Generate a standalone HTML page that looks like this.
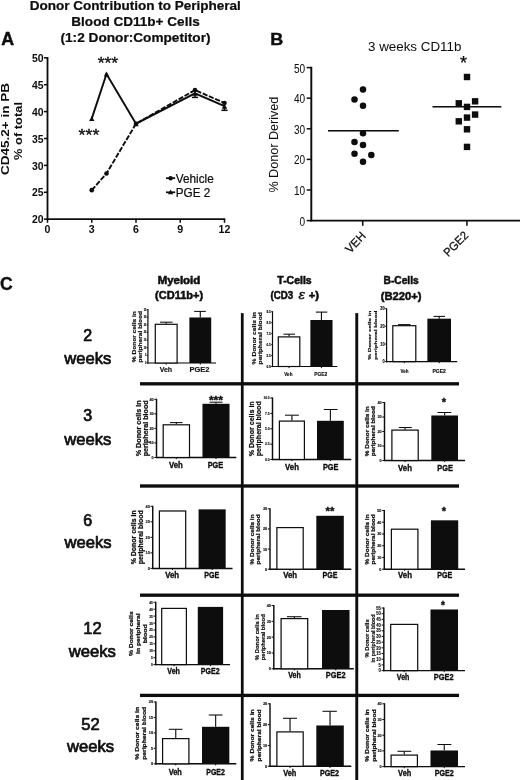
<!DOCTYPE html>
<html lang="en">
<head>
<meta charset="utf-8">
<title>Donor Contribution to Peripheral Blood CD11b+ Cells</title>
<style>
html,body{margin:0;padding:0;background:#fff;}
body{width:520px;height:780px;overflow:hidden;font-family:"Liberation Sans",sans-serif;}
svg{display:block;}
svg text{font-family:"Liberation Sans",sans-serif;}
</style>
</head>
<body>
<svg width="520" height="780" viewBox="0 0 520 780">
<defs><filter id="soft" x="0" y="0" width="100%" height="100%"><feGaussianBlur stdDeviation="0.3"/></filter></defs>
<rect x="0" y="0" width="520" height="780" fill="#fff"/>
<g filter="url(#soft)">
<g id="panelA">
<text x="135.30" y="9.90" font-size="13" text-anchor="middle" fill="#0a0a0a" font-weight="bold" textLength="211.00" lengthAdjust="spacingAndGlyphs" stroke="#0a0a0a" stroke-width="0.2">Donor Contribution to Peripheral</text>
<text x="135.50" y="26.00" font-size="13" text-anchor="middle" fill="#0a0a0a" font-weight="bold" textLength="128.40" lengthAdjust="spacingAndGlyphs" stroke="#0a0a0a" stroke-width="0.2">Blood CD11b+ Cells</text>
<text x="135.50" y="42.00" font-size="13" text-anchor="middle" fill="#0a0a0a" font-weight="bold" textLength="150.00" lengthAdjust="spacingAndGlyphs" stroke="#0a0a0a" stroke-width="0.2">(1:2 Donor:Competitor)</text>
<text x="1.20" y="45.40" font-size="17.8" text-anchor="start" fill="#0a0a0a" font-weight="bold" stroke="#0a0a0a" stroke-width="0.45">A</text>
<line x1="47.50" y1="57.00" x2="47.50" y2="220.00" stroke="#0a0a0a" stroke-width="1.8" />
<line x1="46.60" y1="219.20" x2="225.30" y2="219.20" stroke="#0a0a0a" stroke-width="1.8" />
<line x1="43.90" y1="219.20" x2="47.50" y2="219.20" stroke="#0a0a0a" stroke-width="1.5" />
<text x="43.60" y="223.30" font-size="11.5" text-anchor="end" fill="#0a0a0a" font-weight="bold" textLength="11.60" lengthAdjust="spacingAndGlyphs">20</text>
<line x1="43.90" y1="192.30" x2="47.50" y2="192.30" stroke="#0a0a0a" stroke-width="1.5" />
<text x="43.60" y="196.40" font-size="11.5" text-anchor="end" fill="#0a0a0a" font-weight="bold" textLength="11.60" lengthAdjust="spacingAndGlyphs">25</text>
<line x1="43.90" y1="165.40" x2="47.50" y2="165.40" stroke="#0a0a0a" stroke-width="1.5" />
<text x="43.60" y="169.50" font-size="11.5" text-anchor="end" fill="#0a0a0a" font-weight="bold" textLength="11.60" lengthAdjust="spacingAndGlyphs">30</text>
<line x1="43.90" y1="138.50" x2="47.50" y2="138.50" stroke="#0a0a0a" stroke-width="1.5" />
<text x="43.60" y="142.60" font-size="11.5" text-anchor="end" fill="#0a0a0a" font-weight="bold" textLength="11.60" lengthAdjust="spacingAndGlyphs">35</text>
<line x1="43.90" y1="111.60" x2="47.50" y2="111.60" stroke="#0a0a0a" stroke-width="1.5" />
<text x="43.60" y="115.70" font-size="11.5" text-anchor="end" fill="#0a0a0a" font-weight="bold" textLength="11.60" lengthAdjust="spacingAndGlyphs">40</text>
<line x1="43.90" y1="84.70" x2="47.50" y2="84.70" stroke="#0a0a0a" stroke-width="1.5" />
<text x="43.60" y="88.80" font-size="11.5" text-anchor="end" fill="#0a0a0a" font-weight="bold" textLength="11.60" lengthAdjust="spacingAndGlyphs">45</text>
<line x1="43.90" y1="57.80" x2="47.50" y2="57.80" stroke="#0a0a0a" stroke-width="1.5" />
<text x="43.60" y="61.90" font-size="11.5" text-anchor="end" fill="#0a0a0a" font-weight="bold" textLength="11.60" lengthAdjust="spacingAndGlyphs">50</text>
<line x1="47.50" y1="219.20" x2="47.50" y2="222.80" stroke="#0a0a0a" stroke-width="1.5" />
<text x="47.50" y="232.50" font-size="11.5" text-anchor="middle" fill="#0a0a0a" font-weight="bold" textLength="5.90" lengthAdjust="spacingAndGlyphs">0</text>
<line x1="91.75" y1="219.20" x2="91.75" y2="222.80" stroke="#0a0a0a" stroke-width="1.5" />
<text x="91.75" y="232.50" font-size="11.5" text-anchor="middle" fill="#0a0a0a" font-weight="bold" textLength="5.90" lengthAdjust="spacingAndGlyphs">3</text>
<line x1="136.00" y1="219.20" x2="136.00" y2="222.80" stroke="#0a0a0a" stroke-width="1.5" />
<text x="136.00" y="232.50" font-size="11.5" text-anchor="middle" fill="#0a0a0a" font-weight="bold" textLength="5.90" lengthAdjust="spacingAndGlyphs">6</text>
<line x1="180.25" y1="219.20" x2="180.25" y2="222.80" stroke="#0a0a0a" stroke-width="1.5" />
<text x="180.25" y="232.50" font-size="11.5" text-anchor="middle" fill="#0a0a0a" font-weight="bold" textLength="5.90" lengthAdjust="spacingAndGlyphs">9</text>
<line x1="224.50" y1="219.20" x2="224.50" y2="222.80" stroke="#0a0a0a" stroke-width="1.5" />
<text x="224.50" y="232.50" font-size="11.5" text-anchor="middle" fill="#0a0a0a" font-weight="bold" textLength="11.80" lengthAdjust="spacingAndGlyphs">12</text>
<text x="9.40" y="129.00" font-size="11.5" text-anchor="middle" fill="#0a0a0a" font-weight="bold" textLength="92.00" lengthAdjust="spacingAndGlyphs" transform="rotate(-90 9.40 129.00)">CD45.2+ in PB</text>
<text x="21.70" y="131.00" font-size="11.5" text-anchor="middle" fill="#0a0a0a" font-weight="bold" textLength="58.00" lengthAdjust="spacingAndGlyphs" transform="rotate(-90 21.70 131.00)">% of total</text>
<polyline points="91.75,190.15 106.50,173.47 136.00,123.71 195.00,90.08 224.50,102.99" fill="none" stroke="#0a0a0a" stroke-width="1.9" stroke-dasharray="5.2 1.6" stroke-linejoin="round"/>
<polyline points="91.75,118.59 106.50,73.94 136.00,123.71 195.00,93.31 224.50,106.22" fill="none" stroke="#0a0a0a" stroke-width="1.9" stroke-linejoin="miter"/>
<circle cx="91.75" cy="190.15" r="2.3" fill="#0a0a0a"/>
<circle cx="106.50" cy="173.47" r="2.3" fill="#0a0a0a"/>
<circle cx="136.00" cy="123.71" r="2.3" fill="#0a0a0a"/>
<circle cx="195.00" cy="90.08" r="2.3" fill="#0a0a0a"/>
<circle cx="224.50" cy="102.99" r="2.3" fill="#0a0a0a"/>
<polygon points="91.75,116.19 89.05,121.05 94.45,121.05" fill="#0a0a0a"/>
<polygon points="106.50,71.54 103.80,76.40 109.20,76.40" fill="#0a0a0a"/>
<polygon points="136.00,121.31 133.30,126.17 138.70,126.17" fill="#0a0a0a"/>
<polygon points="195.00,90.91 192.30,95.77 197.70,95.77" fill="#0a0a0a"/>
<polygon points="224.50,103.82 221.80,108.68 227.20,108.68" fill="#0a0a0a"/>
<line x1="191.90" y1="97.41" x2="198.10" y2="97.41" stroke="#0a0a0a" stroke-width="1.5" />
<line x1="195.00" y1="93.31" x2="195.00" y2="97.41" stroke="#0a0a0a" stroke-width="1.4" />
<line x1="221.40" y1="110.32" x2="227.60" y2="110.32" stroke="#0a0a0a" stroke-width="1.5" />
<line x1="224.50" y1="106.22" x2="224.50" y2="110.32" stroke="#0a0a0a" stroke-width="1.4" />
<text x="107.90" y="68.80" font-size="16.5" text-anchor="middle" fill="#0a0a0a" textLength="20.50" lengthAdjust="spacingAndGlyphs" stroke="#0a0a0a" stroke-width="0.3">***</text>
<text x="89.00" y="140.70" font-size="16.5" text-anchor="middle" fill="#0a0a0a" textLength="20.80" lengthAdjust="spacingAndGlyphs" stroke="#0a0a0a" stroke-width="0.3">***</text>
<line x1="166.00" y1="178.20" x2="175.20" y2="178.20" stroke="#0a0a0a" stroke-width="1.7" />
<circle cx="170.6" cy="178.2" r="2.2" fill="#0a0a0a"/>
<line x1="166.00" y1="192.30" x2="175.20" y2="192.30" stroke="#0a0a0a" stroke-width="1.7" />
<polygon points="170.60,189.50 168.00,194.18 173.20,194.18" fill="#0a0a0a"/>
<text x="175.80" y="182.80" font-size="12.6" text-anchor="start" fill="#0a0a0a" textLength="38.00" lengthAdjust="spacingAndGlyphs" stroke="#0a0a0a" stroke-width="0.2">Vehicle</text>
<text x="175.80" y="196.60" font-size="12.6" text-anchor="start" fill="#0a0a0a" textLength="34.50" lengthAdjust="spacingAndGlyphs" stroke="#0a0a0a" stroke-width="0.2">PGE 2</text>
</g>
<g id="panelB">
<text x="270.30" y="45.00" font-size="17.2" text-anchor="start" fill="#0a0a0a" font-weight="bold" textLength="13.00" lengthAdjust="spacingAndGlyphs" stroke="#0a0a0a" stroke-width="0.4">B</text>
<text x="414.70" y="51.40" font-size="13.2" text-anchor="middle" fill="#0a0a0a" textLength="93.30" lengthAdjust="spacingAndGlyphs">3 weeks CD11b</text>
<line x1="311.30" y1="66.80" x2="311.30" y2="221.50" stroke="#0a0a0a" stroke-width="1.9" />
<line x1="310.40" y1="220.60" x2="520.00" y2="220.60" stroke="#0a0a0a" stroke-width="1.9" />
<line x1="306.70" y1="220.60" x2="311.30" y2="220.60" stroke="#0a0a0a" stroke-width="1.5" />
<text x="305.20" y="225.50" font-size="12" text-anchor="end" fill="#0a0a0a" textLength="5.60" lengthAdjust="spacingAndGlyphs">0</text>
<line x1="306.70" y1="190.00" x2="311.30" y2="190.00" stroke="#0a0a0a" stroke-width="1.5" />
<text x="305.20" y="194.90" font-size="12" text-anchor="end" fill="#0a0a0a" textLength="11.20" lengthAdjust="spacingAndGlyphs">10</text>
<line x1="306.70" y1="159.40" x2="311.30" y2="159.40" stroke="#0a0a0a" stroke-width="1.5" />
<text x="305.20" y="164.30" font-size="12" text-anchor="end" fill="#0a0a0a" textLength="11.20" lengthAdjust="spacingAndGlyphs">20</text>
<line x1="306.70" y1="128.80" x2="311.30" y2="128.80" stroke="#0a0a0a" stroke-width="1.5" />
<text x="305.20" y="133.70" font-size="12" text-anchor="end" fill="#0a0a0a" textLength="11.20" lengthAdjust="spacingAndGlyphs">30</text>
<line x1="306.70" y1="98.20" x2="311.30" y2="98.20" stroke="#0a0a0a" stroke-width="1.5" />
<text x="305.20" y="103.10" font-size="12" text-anchor="end" fill="#0a0a0a" textLength="11.20" lengthAdjust="spacingAndGlyphs">40</text>
<line x1="306.70" y1="67.60" x2="311.30" y2="67.60" stroke="#0a0a0a" stroke-width="1.5" />
<text x="305.20" y="72.50" font-size="12" text-anchor="end" fill="#0a0a0a" textLength="11.20" lengthAdjust="spacingAndGlyphs">50</text>
<line x1="362.70" y1="220.60" x2="362.70" y2="225.80" stroke="#0a0a0a" stroke-width="1.5" />
<line x1="466.90" y1="220.60" x2="466.90" y2="225.80" stroke="#0a0a0a" stroke-width="1.5" />
<text x="278.00" y="144.60" font-size="12.6" text-anchor="middle" fill="#0a0a0a" textLength="96.00" lengthAdjust="spacingAndGlyphs" transform="rotate(-90 278.00 144.60)">% Donor Derived</text>
<circle cx="363" cy="89.5" r="3.25" fill="#0a0a0a"/>
<circle cx="354.5" cy="99.6" r="3.25" fill="#0a0a0a"/>
<circle cx="363" cy="105.8" r="3.25" fill="#0a0a0a"/>
<circle cx="363" cy="133.3" r="3.25" fill="#0a0a0a"/>
<circle cx="354.5" cy="142" r="3.25" fill="#0a0a0a"/>
<circle cx="363" cy="145" r="3.25" fill="#0a0a0a"/>
<circle cx="354.5" cy="153.8" r="3.25" fill="#0a0a0a"/>
<circle cx="371.3" cy="155.1" r="3.25" fill="#0a0a0a"/>
<circle cx="363" cy="161.8" r="3.25" fill="#0a0a0a"/>
<line x1="328.00" y1="130.80" x2="398.80" y2="130.80" stroke="#0a0a0a" stroke-width="1.6" />
<rect x="463.80" y="73.80" width="6.40" height="6.40" fill="#0a0a0a"/>
<rect x="455.60" y="100.10" width="6.40" height="6.40" fill="#0a0a0a"/>
<rect x="471.90" y="98.10" width="6.40" height="6.40" fill="#0a0a0a"/>
<rect x="463.80" y="103.70" width="6.40" height="6.40" fill="#0a0a0a"/>
<rect x="471.90" y="111.40" width="6.40" height="6.40" fill="#0a0a0a"/>
<rect x="463.80" y="114.40" width="6.40" height="6.40" fill="#0a0a0a"/>
<rect x="455.60" y="118.10" width="6.40" height="6.40" fill="#0a0a0a"/>
<rect x="463.80" y="126.10" width="6.40" height="6.40" fill="#0a0a0a"/>
<rect x="463.80" y="143.70" width="6.40" height="6.40" fill="#0a0a0a"/>
<line x1="432.50" y1="106.80" x2="501.30" y2="106.80" stroke="#0a0a0a" stroke-width="1.6" />
<text x="463.40" y="69.00" font-size="18" text-anchor="middle" fill="#0a0a0a" stroke="#0a0a0a" stroke-width="0.25">*</text>
<text x="366.40" y="236.60" font-size="11.8" text-anchor="end" fill="#0a0a0a" textLength="23.60" lengthAdjust="spacingAndGlyphs" transform="rotate(-46.5 366.40 236.60)" stroke="#0a0a0a" stroke-width="0.25">VEH</text>
<text x="469.20" y="236.20" font-size="11.8" text-anchor="end" fill="#0a0a0a" textLength="29.60" lengthAdjust="spacingAndGlyphs" transform="rotate(-45 469.20 236.20)" stroke="#0a0a0a" stroke-width="0.25">PGE2</text>
</g>
<g id="panelC">
<text x="0.00" y="289.70" font-size="17.6" text-anchor="start" fill="#0a0a0a" font-weight="bold" stroke="#0a0a0a" stroke-width="0.3">C</text>
<text x="179.00" y="284.30" font-size="10.8" text-anchor="middle" fill="#0a0a0a" font-weight="bold" textLength="42.60" lengthAdjust="spacingAndGlyphs" stroke="#0a0a0a" stroke-width="0.5">Myeloid</text>
<text x="179.10" y="299.30" font-size="10.8" text-anchor="middle" fill="#0a0a0a" font-weight="bold" textLength="48.00" lengthAdjust="spacingAndGlyphs" stroke="#0a0a0a" stroke-width="0.5">(CD11b+)</text>
<text x="294.50" y="284.30" font-size="10.8" text-anchor="middle" fill="#0a0a0a" font-weight="bold" textLength="34.40" lengthAdjust="spacingAndGlyphs" stroke="#0a0a0a" stroke-width="0.5">T-Cells</text>
<text x="281.80" y="299.30" font-size="10.8" text-anchor="middle" fill="#0a0a0a" font-weight="bold" textLength="22.60" lengthAdjust="spacingAndGlyphs" stroke="#0a0a0a" stroke-width="0.5">(CD3</text>
<text x="301.70" y="299.10" font-size="12.4" text-anchor="middle" fill="#0a0a0a" font-style="italic" textLength="6.40" lengthAdjust="spacingAndGlyphs" stroke="#0a0a0a" stroke-width="0.3">ε</text>
<text x="313.80" y="299.30" font-size="10.8" text-anchor="middle" fill="#0a0a0a" font-weight="bold" textLength="10.30" lengthAdjust="spacingAndGlyphs" stroke="#0a0a0a" stroke-width="0.5">+)</text>
<text x="401.10" y="284.30" font-size="10.8" text-anchor="middle" fill="#0a0a0a" font-weight="bold" textLength="35.20" lengthAdjust="spacingAndGlyphs" stroke="#0a0a0a" stroke-width="0.5">B-Cells</text>
<text x="401.10" y="299.60" font-size="10.8" text-anchor="middle" fill="#0a0a0a" font-weight="bold" textLength="40.60" lengthAdjust="spacingAndGlyphs" stroke="#0a0a0a" stroke-width="0.5">(B220+)</text>
<text x="87.60" y="341.30" font-size="16" text-anchor="middle" fill="#0a0a0a" textLength="8.90" lengthAdjust="spacingAndGlyphs" stroke="#0a0a0a" stroke-width="0.7" stroke-linejoin="round">2</text>
<text x="87.80" y="363.80" font-size="16.6" text-anchor="middle" fill="#0a0a0a" textLength="47.20" lengthAdjust="spacingAndGlyphs" stroke="#0a0a0a" stroke-width="0.7" stroke-linejoin="round">weeks</text>
<text x="87.60" y="421.40" font-size="16" text-anchor="middle" fill="#0a0a0a" textLength="8.90" lengthAdjust="spacingAndGlyphs" stroke="#0a0a0a" stroke-width="0.7" stroke-linejoin="round">3</text>
<text x="87.80" y="444.50" font-size="16.6" text-anchor="middle" fill="#0a0a0a" textLength="47.20" lengthAdjust="spacingAndGlyphs" stroke="#0a0a0a" stroke-width="0.7" stroke-linejoin="round">weeks</text>
<text x="87.70" y="525.70" font-size="16" text-anchor="middle" fill="#0a0a0a" textLength="8.90" lengthAdjust="spacingAndGlyphs" stroke="#0a0a0a" stroke-width="0.7" stroke-linejoin="round">6</text>
<text x="88.00" y="548.30" font-size="16.6" text-anchor="middle" fill="#0a0a0a" textLength="47.20" lengthAdjust="spacingAndGlyphs" stroke="#0a0a0a" stroke-width="0.7" stroke-linejoin="round">weeks</text>
<text x="92.40" y="634.30" font-size="16" text-anchor="middle" fill="#0a0a0a" textLength="18.40" lengthAdjust="spacingAndGlyphs" stroke="#0a0a0a" stroke-width="0.7" stroke-linejoin="round">12</text>
<text x="92.30" y="657.00" font-size="16.6" text-anchor="middle" fill="#0a0a0a" textLength="47.20" lengthAdjust="spacingAndGlyphs" stroke="#0a0a0a" stroke-width="0.7" stroke-linejoin="round">weeks</text>
<text x="90.50" y="729.80" font-size="16" text-anchor="middle" fill="#0a0a0a" textLength="18.40" lengthAdjust="spacingAndGlyphs" stroke="#0a0a0a" stroke-width="0.7" stroke-linejoin="round">52</text>
<text x="90.50" y="752.00" font-size="16.6" text-anchor="middle" fill="#0a0a0a" textLength="47.20" lengthAdjust="spacingAndGlyphs" stroke="#0a0a0a" stroke-width="0.7" stroke-linejoin="round">weeks</text>
<rect x="140.00" y="382.15" width="319.00" height="3.30" fill="#0a0a0a"/>
<rect x="140.00" y="484.35" width="319.00" height="3.30" fill="#0a0a0a"/>
<rect x="140.00" y="593.55" width="319.00" height="3.30" fill="#0a0a0a"/>
<rect x="140.00" y="693.75" width="319.00" height="3.30" fill="#0a0a0a"/>
<rect x="240.90" y="313.10" width="2.70" height="466.90" fill="#0a0a0a"/>
<rect x="355.30" y="313.10" width="2.90" height="466.90" fill="#0a0a0a"/>
<line x1="147.90" y1="309.10" x2="147.90" y2="363.60" stroke="#0a0a0a" stroke-width="1.2" />
<line x1="147.30" y1="363.00" x2="216.00" y2="363.00" stroke="#0a0a0a" stroke-width="1.2" />
<line x1="146.70" y1="309.60" x2="147.90" y2="309.60" stroke="#0a0a0a" stroke-width="1.0" />
<text x="146.30" y="310.61" font-size="2.8" text-anchor="end" fill="#0a0a0a" font-weight="bold" textLength="2.60" lengthAdjust="spacingAndGlyphs" stroke="#0a0a0a" stroke-width="0.12">35</text>
<line x1="146.70" y1="317.23" x2="147.90" y2="317.23" stroke="#0a0a0a" stroke-width="1.0" />
<text x="146.30" y="318.24" font-size="2.8" text-anchor="end" fill="#0a0a0a" font-weight="bold" textLength="2.60" lengthAdjust="spacingAndGlyphs" stroke="#0a0a0a" stroke-width="0.12">30</text>
<line x1="146.70" y1="324.86" x2="147.90" y2="324.86" stroke="#0a0a0a" stroke-width="1.0" />
<text x="146.30" y="325.87" font-size="2.8" text-anchor="end" fill="#0a0a0a" font-weight="bold" textLength="2.60" lengthAdjust="spacingAndGlyphs" stroke="#0a0a0a" stroke-width="0.12">25</text>
<line x1="146.70" y1="332.49" x2="147.90" y2="332.49" stroke="#0a0a0a" stroke-width="1.0" />
<text x="146.30" y="333.49" font-size="2.8" text-anchor="end" fill="#0a0a0a" font-weight="bold" textLength="2.60" lengthAdjust="spacingAndGlyphs" stroke="#0a0a0a" stroke-width="0.12">20</text>
<line x1="146.70" y1="340.11" x2="147.90" y2="340.11" stroke="#0a0a0a" stroke-width="1.0" />
<text x="146.30" y="341.12" font-size="2.8" text-anchor="end" fill="#0a0a0a" font-weight="bold" textLength="2.60" lengthAdjust="spacingAndGlyphs" stroke="#0a0a0a" stroke-width="0.12">15</text>
<line x1="146.70" y1="347.74" x2="147.90" y2="347.74" stroke="#0a0a0a" stroke-width="1.0" />
<text x="146.30" y="348.75" font-size="2.8" text-anchor="end" fill="#0a0a0a" font-weight="bold" textLength="2.60" lengthAdjust="spacingAndGlyphs" stroke="#0a0a0a" stroke-width="0.12">10</text>
<line x1="146.70" y1="355.37" x2="147.90" y2="355.37" stroke="#0a0a0a" stroke-width="1.0" />
<text x="146.30" y="356.38" font-size="2.8" text-anchor="end" fill="#0a0a0a" font-weight="bold" textLength="1.30" lengthAdjust="spacingAndGlyphs" stroke="#0a0a0a" stroke-width="0.12">5</text>
<line x1="146.70" y1="363.00" x2="147.90" y2="363.00" stroke="#0a0a0a" stroke-width="1.0" />
<text x="146.30" y="364.01" font-size="2.8" text-anchor="end" fill="#0a0a0a" font-weight="bold" textLength="1.30" lengthAdjust="spacingAndGlyphs" stroke="#0a0a0a" stroke-width="0.12">0</text>
<line x1="166.20" y1="322.20" x2="166.20" y2="323.70" stroke="#0a0a0a" stroke-width="1.1" />
<line x1="160.00" y1="322.20" x2="172.50" y2="322.20" stroke="#0a0a0a" stroke-width="1.05" />
<rect x="155.30" y="324.30" width="21.80" height="38.70" fill="#fff" stroke="#0a0a0a" stroke-width="1.2"/>
<line x1="200.30" y1="311.40" x2="200.30" y2="317.50" stroke="#0a0a0a" stroke-width="1.1" />
<line x1="194.20" y1="311.40" x2="205.80" y2="311.40" stroke="#0a0a0a" stroke-width="1.05" />
<rect x="189.40" y="317.50" width="21.80" height="45.50" fill="#0a0a0a"/>
<line x1="166.20" y1="363.00" x2="166.20" y2="364.60" stroke="#0a0a0a" stroke-width="1.0" />
<line x1="200.30" y1="363.00" x2="200.30" y2="364.60" stroke="#0a0a0a" stroke-width="1.0" />
<text x="165.90" y="371.80" font-size="6.7" text-anchor="middle" fill="#0a0a0a" font-weight="bold" textLength="12.50" lengthAdjust="spacingAndGlyphs" stroke="#0a0a0a" stroke-width="0.12">Veh</text>
<text x="199.50" y="371.80" font-size="6.7" text-anchor="middle" fill="#0a0a0a" font-weight="bold" textLength="20.00" lengthAdjust="spacingAndGlyphs" stroke="#0a0a0a" stroke-width="0.12">PGE2</text>
<text x="135.90" y="336.70" font-size="5.3" text-anchor="middle" fill="#0a0a0a" font-weight="bold" textLength="51.00" lengthAdjust="spacingAndGlyphs" transform="rotate(-90 135.90 336.70)" stroke="#0a0a0a" stroke-width="0.15">% Donor cells in</text>
<text x="142.40" y="336.70" font-size="5.3" text-anchor="middle" fill="#0a0a0a" font-weight="bold" textLength="51.70" lengthAdjust="spacingAndGlyphs" transform="rotate(-90 142.40 336.70)" stroke="#0a0a0a" stroke-width="0.15">peripheral blood</text>
<line x1="272.50" y1="311.20" x2="272.50" y2="367.10" stroke="#0a0a0a" stroke-width="1.2" />
<line x1="271.90" y1="366.50" x2="337.30" y2="366.50" stroke="#0a0a0a" stroke-width="1.2" />
<line x1="271.20" y1="311.70" x2="272.50" y2="311.70" stroke="#0a0a0a" stroke-width="1.0" />
<text x="270.80" y="312.78" font-size="3.0" text-anchor="end" fill="#0a0a0a" font-weight="bold" textLength="4.35" lengthAdjust="spacingAndGlyphs" stroke="#0a0a0a" stroke-width="0.12">9.5</text>
<line x1="271.20" y1="322.66" x2="272.50" y2="322.66" stroke="#0a0a0a" stroke-width="1.0" />
<text x="270.80" y="323.74" font-size="3.0" text-anchor="end" fill="#0a0a0a" font-weight="bold" textLength="4.35" lengthAdjust="spacingAndGlyphs" stroke="#0a0a0a" stroke-width="0.12">8.5</text>
<line x1="271.20" y1="333.62" x2="272.50" y2="333.62" stroke="#0a0a0a" stroke-width="1.0" />
<text x="270.80" y="334.70" font-size="3.0" text-anchor="end" fill="#0a0a0a" font-weight="bold" textLength="4.35" lengthAdjust="spacingAndGlyphs" stroke="#0a0a0a" stroke-width="0.12">7.5</text>
<line x1="271.20" y1="344.58" x2="272.50" y2="344.58" stroke="#0a0a0a" stroke-width="1.0" />
<text x="270.80" y="345.66" font-size="3.0" text-anchor="end" fill="#0a0a0a" font-weight="bold" textLength="4.35" lengthAdjust="spacingAndGlyphs" stroke="#0a0a0a" stroke-width="0.12">6.5</text>
<line x1="271.20" y1="355.54" x2="272.50" y2="355.54" stroke="#0a0a0a" stroke-width="1.0" />
<text x="270.80" y="356.62" font-size="3.0" text-anchor="end" fill="#0a0a0a" font-weight="bold" textLength="4.35" lengthAdjust="spacingAndGlyphs" stroke="#0a0a0a" stroke-width="0.12">5.5</text>
<line x1="271.20" y1="366.50" x2="272.50" y2="366.50" stroke="#0a0a0a" stroke-width="1.0" />
<text x="270.80" y="367.58" font-size="3.0" text-anchor="end" fill="#0a0a0a" font-weight="bold" textLength="4.35" lengthAdjust="spacingAndGlyphs" stroke="#0a0a0a" stroke-width="0.12">0.0</text>
<line x1="289.05" y1="334.20" x2="289.05" y2="336.30" stroke="#0a0a0a" stroke-width="1.1" />
<line x1="283.50" y1="334.20" x2="295.00" y2="334.20" stroke="#0a0a0a" stroke-width="1.05" />
<rect x="278.30" y="336.90" width="21.50" height="29.60" fill="#fff" stroke="#0a0a0a" stroke-width="1.2"/>
<line x1="321.45" y1="312.10" x2="321.45" y2="320.00" stroke="#0a0a0a" stroke-width="1.1" />
<line x1="315.80" y1="312.10" x2="327.30" y2="312.10" stroke="#0a0a0a" stroke-width="1.05" />
<rect x="310.40" y="320.00" width="22.10" height="46.50" fill="#0a0a0a"/>
<line x1="289.05" y1="366.50" x2="289.05" y2="368.10" stroke="#0a0a0a" stroke-width="1.0" />
<line x1="321.45" y1="366.50" x2="321.45" y2="368.10" stroke="#0a0a0a" stroke-width="1.0" />
<text x="288.40" y="376.20" font-size="5.4" text-anchor="middle" fill="#0a0a0a" font-weight="bold" textLength="8.20" lengthAdjust="spacingAndGlyphs" stroke="#0a0a0a" stroke-width="0.12">Veh</text>
<text x="320.70" y="376.20" font-size="5.4" text-anchor="middle" fill="#0a0a0a" font-weight="bold" textLength="13.00" lengthAdjust="spacingAndGlyphs" stroke="#0a0a0a" stroke-width="0.12">PGE2</text>
<text x="256.37" y="338.30" font-size="5.2" text-anchor="middle" fill="#0a0a0a" font-weight="bold" textLength="52.30" lengthAdjust="spacingAndGlyphs" transform="rotate(-90 256.37 338.30)" stroke="#0a0a0a" stroke-width="0.15">% Donor cells in</text>
<text x="262.37" y="338.30" font-size="5.2" text-anchor="middle" fill="#0a0a0a" font-weight="bold" textLength="52.30" lengthAdjust="spacingAndGlyphs" transform="rotate(-90 262.37 338.30)" stroke="#0a0a0a" stroke-width="0.15">peripheral blood</text>
<line x1="386.60" y1="308.20" x2="386.60" y2="362.20" stroke="#0a0a0a" stroke-width="1.2" />
<line x1="386.00" y1="361.60" x2="457.20" y2="361.60" stroke="#0a0a0a" stroke-width="1.2" />
<line x1="385.10" y1="308.70" x2="386.60" y2="308.70" stroke="#0a0a0a" stroke-width="1.0" />
<text x="384.70" y="310.43" font-size="4.8" text-anchor="end" fill="#0a0a0a" font-weight="bold" textLength="4.40" lengthAdjust="spacingAndGlyphs" stroke="#0a0a0a" stroke-width="0.12">30</text>
<line x1="385.10" y1="326.33" x2="386.60" y2="326.33" stroke="#0a0a0a" stroke-width="1.0" />
<text x="384.70" y="328.06" font-size="4.8" text-anchor="end" fill="#0a0a0a" font-weight="bold" textLength="4.40" lengthAdjust="spacingAndGlyphs" stroke="#0a0a0a" stroke-width="0.12">20</text>
<line x1="385.10" y1="343.97" x2="386.60" y2="343.97" stroke="#0a0a0a" stroke-width="1.0" />
<text x="384.70" y="345.69" font-size="4.8" text-anchor="end" fill="#0a0a0a" font-weight="bold" textLength="4.40" lengthAdjust="spacingAndGlyphs" stroke="#0a0a0a" stroke-width="0.12">10</text>
<line x1="385.10" y1="361.60" x2="386.60" y2="361.60" stroke="#0a0a0a" stroke-width="1.0" />
<text x="384.70" y="363.33" font-size="4.8" text-anchor="end" fill="#0a0a0a" font-weight="bold" textLength="2.20" lengthAdjust="spacingAndGlyphs" stroke="#0a0a0a" stroke-width="0.12">0</text>
<line x1="404.30" y1="324.60" x2="404.30" y2="325.10" stroke="#0a0a0a" stroke-width="1.1" />
<line x1="398.00" y1="324.60" x2="410.50" y2="324.60" stroke="#0a0a0a" stroke-width="1.05" />
<rect x="392.80" y="325.70" width="23.00" height="35.90" fill="#fff" stroke="#0a0a0a" stroke-width="1.2"/>
<line x1="439.20" y1="316.40" x2="439.20" y2="318.70" stroke="#0a0a0a" stroke-width="1.1" />
<line x1="433.50" y1="316.40" x2="445.00" y2="316.40" stroke="#0a0a0a" stroke-width="1.05" />
<rect x="427.40" y="318.70" width="23.60" height="42.90" fill="#0a0a0a"/>
<line x1="404.30" y1="361.60" x2="404.30" y2="363.20" stroke="#0a0a0a" stroke-width="1.0" />
<line x1="439.20" y1="361.60" x2="439.20" y2="363.20" stroke="#0a0a0a" stroke-width="1.0" />
<text x="404.50" y="372.90" font-size="5.4" text-anchor="middle" fill="#0a0a0a" font-weight="bold" textLength="8.00" lengthAdjust="spacingAndGlyphs" stroke="#0a0a0a" stroke-width="0.12">Veh</text>
<text x="439.10" y="372.90" font-size="5.4" text-anchor="middle" fill="#0a0a0a" font-weight="bold" textLength="13.40" lengthAdjust="spacingAndGlyphs" stroke="#0a0a0a" stroke-width="0.12">PGE2</text>
<text x="371.10" y="335.20" font-size="4.4" text-anchor="middle" fill="#0a0a0a" font-weight="bold" textLength="49.00" lengthAdjust="spacingAndGlyphs" transform="rotate(-90 371.10 335.20)" stroke="#0a0a0a" stroke-width="0.15">% Donor cells in</text>
<text x="376.60" y="335.20" font-size="4.4" text-anchor="middle" fill="#0a0a0a" font-weight="bold" textLength="49.00" lengthAdjust="spacingAndGlyphs" transform="rotate(-90 376.60 335.20)" stroke="#0a0a0a" stroke-width="0.15">peripheral blood</text>
<line x1="156.50" y1="398.80" x2="156.50" y2="458.10" stroke="#0a0a0a" stroke-width="1.45" />
<line x1="155.90" y1="457.50" x2="236.30" y2="457.50" stroke="#0a0a0a" stroke-width="1.45" />
<line x1="154.30" y1="399.30" x2="156.50" y2="399.30" stroke="#0a0a0a" stroke-width="1.0" />
<text x="153.60" y="400.74" font-size="4.0" text-anchor="end" fill="#0a0a0a" font-weight="bold" textLength="4.20" lengthAdjust="spacingAndGlyphs" stroke="#0a0a0a" stroke-width="0.12">40</text>
<line x1="154.30" y1="413.85" x2="156.50" y2="413.85" stroke="#0a0a0a" stroke-width="1.0" />
<text x="153.60" y="415.29" font-size="4.0" text-anchor="end" fill="#0a0a0a" font-weight="bold" textLength="4.20" lengthAdjust="spacingAndGlyphs" stroke="#0a0a0a" stroke-width="0.12">30</text>
<line x1="154.30" y1="428.40" x2="156.50" y2="428.40" stroke="#0a0a0a" stroke-width="1.0" />
<text x="153.60" y="429.84" font-size="4.0" text-anchor="end" fill="#0a0a0a" font-weight="bold" textLength="4.20" lengthAdjust="spacingAndGlyphs" stroke="#0a0a0a" stroke-width="0.12">20</text>
<line x1="154.30" y1="442.95" x2="156.50" y2="442.95" stroke="#0a0a0a" stroke-width="1.0" />
<text x="153.60" y="444.39" font-size="4.0" text-anchor="end" fill="#0a0a0a" font-weight="bold" textLength="4.20" lengthAdjust="spacingAndGlyphs" stroke="#0a0a0a" stroke-width="0.12">10</text>
<line x1="154.30" y1="457.50" x2="156.50" y2="457.50" stroke="#0a0a0a" stroke-width="1.0" />
<text x="153.60" y="458.94" font-size="4.0" text-anchor="end" fill="#0a0a0a" font-weight="bold" textLength="2.10" lengthAdjust="spacingAndGlyphs" stroke="#0a0a0a" stroke-width="0.12">0</text>
<line x1="176.35" y1="422.60" x2="176.35" y2="424.20" stroke="#0a0a0a" stroke-width="1.1" />
<line x1="170.00" y1="422.60" x2="182.50" y2="422.60" stroke="#0a0a0a" stroke-width="1.05" />
<rect x="163.20" y="424.80" width="26.30" height="32.70" fill="#fff" stroke="#0a0a0a" stroke-width="1.2"/>
<line x1="216.00" y1="402.20" x2="216.00" y2="403.80" stroke="#0a0a0a" stroke-width="1.1" />
<line x1="209.50" y1="402.20" x2="222.50" y2="402.20" stroke="#0a0a0a" stroke-width="1.05" />
<rect x="202.50" y="403.80" width="27.00" height="53.70" fill="#0a0a0a"/>
<line x1="176.35" y1="457.50" x2="176.35" y2="459.10" stroke="#0a0a0a" stroke-width="1.0" />
<line x1="216.00" y1="457.50" x2="216.00" y2="459.10" stroke="#0a0a0a" stroke-width="1.0" />
<text x="175.90" y="467.70" font-size="9" text-anchor="middle" fill="#0a0a0a" font-weight="bold" textLength="13.90" lengthAdjust="spacingAndGlyphs" stroke="#0a0a0a" stroke-width="0.32">Veh</text>
<text x="215.50" y="467.70" font-size="9" text-anchor="middle" fill="#0a0a0a" font-weight="bold" textLength="15.60" lengthAdjust="spacingAndGlyphs" stroke="#0a0a0a" stroke-width="0.32">PGE</text>
<text x="140.84" y="428.30" font-size="6.6" text-anchor="middle" fill="#0a0a0a" font-weight="bold" textLength="56.00" lengthAdjust="spacingAndGlyphs" transform="rotate(-90 140.84 428.30)" stroke="#0a0a0a" stroke-width="0.22">% Donor cells in</text>
<text x="148.24" y="428.30" font-size="6.6" text-anchor="middle" fill="#0a0a0a" font-weight="bold" textLength="56.00" lengthAdjust="spacingAndGlyphs" transform="rotate(-90 148.24 428.30)" stroke="#0a0a0a" stroke-width="0.22">peripheral blood</text>
<text x="216.00" y="403.90" font-size="10.5" text-anchor="middle" fill="#0a0a0a" font-weight="bold" textLength="14.20" lengthAdjust="spacingAndGlyphs" stroke="#0a0a0a" stroke-width="0.35">***</text>
<line x1="272.50" y1="397.50" x2="272.50" y2="460.10" stroke="#0a0a0a" stroke-width="1.45" />
<line x1="271.90" y1="459.50" x2="351.30" y2="459.50" stroke="#0a0a0a" stroke-width="1.45" />
<line x1="270.30" y1="398.00" x2="272.50" y2="398.00" stroke="#0a0a0a" stroke-width="1.0" />
<text x="269.60" y="399.37" font-size="3.8" text-anchor="end" fill="#0a0a0a" font-weight="bold" textLength="6.20" lengthAdjust="spacingAndGlyphs" stroke="#0a0a0a" stroke-width="0.12">10.0</text>
<line x1="270.30" y1="413.38" x2="272.50" y2="413.38" stroke="#0a0a0a" stroke-width="1.0" />
<text x="269.60" y="414.74" font-size="3.8" text-anchor="end" fill="#0a0a0a" font-weight="bold" textLength="4.65" lengthAdjust="spacingAndGlyphs" stroke="#0a0a0a" stroke-width="0.12">7.5</text>
<line x1="270.30" y1="428.75" x2="272.50" y2="428.75" stroke="#0a0a0a" stroke-width="1.0" />
<text x="269.60" y="430.12" font-size="3.8" text-anchor="end" fill="#0a0a0a" font-weight="bold" textLength="4.65" lengthAdjust="spacingAndGlyphs" stroke="#0a0a0a" stroke-width="0.12">5.0</text>
<line x1="270.30" y1="444.12" x2="272.50" y2="444.12" stroke="#0a0a0a" stroke-width="1.0" />
<text x="269.60" y="445.49" font-size="3.8" text-anchor="end" fill="#0a0a0a" font-weight="bold" textLength="4.65" lengthAdjust="spacingAndGlyphs" stroke="#0a0a0a" stroke-width="0.12">2.5</text>
<line x1="270.30" y1="459.50" x2="272.50" y2="459.50" stroke="#0a0a0a" stroke-width="1.0" />
<text x="269.60" y="460.87" font-size="3.8" text-anchor="end" fill="#0a0a0a" font-weight="bold" textLength="4.65" lengthAdjust="spacingAndGlyphs" stroke="#0a0a0a" stroke-width="0.12">0.0</text>
<line x1="291.90" y1="415.20" x2="291.90" y2="420.50" stroke="#0a0a0a" stroke-width="1.1" />
<line x1="285.00" y1="415.20" x2="298.80" y2="415.20" stroke="#0a0a0a" stroke-width="1.05" />
<rect x="279.40" y="421.10" width="25.00" height="38.40" fill="#fff" stroke="#0a0a0a" stroke-width="1.2"/>
<line x1="330.40" y1="409.50" x2="330.40" y2="420.80" stroke="#0a0a0a" stroke-width="1.1" />
<line x1="323.80" y1="409.50" x2="337.50" y2="409.50" stroke="#0a0a0a" stroke-width="1.05" />
<rect x="317.00" y="420.80" width="26.80" height="38.70" fill="#0a0a0a"/>
<line x1="291.90" y1="459.50" x2="291.90" y2="461.10" stroke="#0a0a0a" stroke-width="1.0" />
<line x1="330.40" y1="459.50" x2="330.40" y2="461.10" stroke="#0a0a0a" stroke-width="1.0" />
<text x="292.00" y="469.90" font-size="9" text-anchor="middle" fill="#0a0a0a" font-weight="bold" textLength="13.90" lengthAdjust="spacingAndGlyphs" stroke="#0a0a0a" stroke-width="0.32">Veh</text>
<text x="330.70" y="469.90" font-size="9" text-anchor="middle" fill="#0a0a0a" font-weight="bold" textLength="15.60" lengthAdjust="spacingAndGlyphs" stroke="#0a0a0a" stroke-width="0.32">PGE</text>
<text x="254.18" y="428.80" font-size="6.4" text-anchor="middle" fill="#0a0a0a" font-weight="bold" textLength="55.00" lengthAdjust="spacingAndGlyphs" transform="rotate(-90 254.18 428.80)" stroke="#0a0a0a" stroke-width="0.22">% Donor cells in</text>
<text x="260.78" y="428.80" font-size="6.4" text-anchor="middle" fill="#0a0a0a" font-weight="bold" textLength="55.00" lengthAdjust="spacingAndGlyphs" transform="rotate(-90 260.78 428.80)" stroke="#0a0a0a" stroke-width="0.22">peripheral blood</text>
<line x1="384.50" y1="402.00" x2="384.50" y2="461.10" stroke="#0a0a0a" stroke-width="1.45" />
<line x1="383.90" y1="460.50" x2="465.00" y2="460.50" stroke="#0a0a0a" stroke-width="1.45" />
<line x1="382.30" y1="402.50" x2="384.50" y2="402.50" stroke="#0a0a0a" stroke-width="1.0" />
<text x="381.60" y="403.94" font-size="4.0" text-anchor="end" fill="#0a0a0a" font-weight="bold" textLength="4.20" lengthAdjust="spacingAndGlyphs" stroke="#0a0a0a" stroke-width="0.12">40</text>
<line x1="382.30" y1="417.00" x2="384.50" y2="417.00" stroke="#0a0a0a" stroke-width="1.0" />
<text x="381.60" y="418.44" font-size="4.0" text-anchor="end" fill="#0a0a0a" font-weight="bold" textLength="4.20" lengthAdjust="spacingAndGlyphs" stroke="#0a0a0a" stroke-width="0.12">30</text>
<line x1="382.30" y1="431.50" x2="384.50" y2="431.50" stroke="#0a0a0a" stroke-width="1.0" />
<text x="381.60" y="432.94" font-size="4.0" text-anchor="end" fill="#0a0a0a" font-weight="bold" textLength="4.20" lengthAdjust="spacingAndGlyphs" stroke="#0a0a0a" stroke-width="0.12">20</text>
<line x1="382.30" y1="446.00" x2="384.50" y2="446.00" stroke="#0a0a0a" stroke-width="1.0" />
<text x="381.60" y="447.44" font-size="4.0" text-anchor="end" fill="#0a0a0a" font-weight="bold" textLength="4.20" lengthAdjust="spacingAndGlyphs" stroke="#0a0a0a" stroke-width="0.12">10</text>
<line x1="382.30" y1="460.50" x2="384.50" y2="460.50" stroke="#0a0a0a" stroke-width="1.0" />
<text x="381.60" y="461.94" font-size="4.0" text-anchor="end" fill="#0a0a0a" font-weight="bold" textLength="2.10" lengthAdjust="spacingAndGlyphs" stroke="#0a0a0a" stroke-width="0.12">0</text>
<line x1="405.05" y1="427.50" x2="405.05" y2="429.50" stroke="#0a0a0a" stroke-width="1.1" />
<line x1="398.80" y1="427.50" x2="411.80" y2="427.50" stroke="#0a0a0a" stroke-width="1.05" />
<rect x="391.90" y="430.10" width="26.30" height="30.40" fill="#fff" stroke="#0a0a0a" stroke-width="1.2"/>
<line x1="444.65" y1="412.50" x2="444.65" y2="415.50" stroke="#0a0a0a" stroke-width="1.1" />
<line x1="437.50" y1="412.50" x2="451.30" y2="412.50" stroke="#0a0a0a" stroke-width="1.05" />
<rect x="431.30" y="415.50" width="26.70" height="45.00" fill="#0a0a0a"/>
<line x1="405.05" y1="460.50" x2="405.05" y2="462.10" stroke="#0a0a0a" stroke-width="1.0" />
<line x1="444.65" y1="460.50" x2="444.65" y2="462.10" stroke="#0a0a0a" stroke-width="1.0" />
<text x="405.00" y="470.50" font-size="9" text-anchor="middle" fill="#0a0a0a" font-weight="bold" textLength="13.90" lengthAdjust="spacingAndGlyphs" stroke="#0a0a0a" stroke-width="0.32">Veh</text>
<text x="445.10" y="470.50" font-size="9" text-anchor="middle" fill="#0a0a0a" font-weight="bold" textLength="15.60" lengthAdjust="spacingAndGlyphs" stroke="#0a0a0a" stroke-width="0.32">PGE</text>
<text x="369.21" y="431.20" font-size="5.9" text-anchor="middle" fill="#0a0a0a" font-weight="bold" textLength="50.00" lengthAdjust="spacingAndGlyphs" transform="rotate(-90 369.21 431.20)" stroke="#0a0a0a" stroke-width="0.22">% Donor cells in</text>
<text x="375.41" y="431.20" font-size="5.9" text-anchor="middle" fill="#0a0a0a" font-weight="bold" textLength="50.00" lengthAdjust="spacingAndGlyphs" transform="rotate(-90 375.41 431.20)" stroke="#0a0a0a" stroke-width="0.22">peripheral blood</text>
<text x="443.80" y="406.20" font-size="11" text-anchor="middle" fill="#0a0a0a" font-weight="bold" stroke="#0a0a0a" stroke-width="0.35">*</text>
<line x1="152.70" y1="505.80" x2="152.70" y2="569.00" stroke="#0a0a0a" stroke-width="1.45" />
<line x1="152.10" y1="568.40" x2="232.50" y2="568.40" stroke="#0a0a0a" stroke-width="1.45" />
<line x1="150.50" y1="506.30" x2="152.70" y2="506.30" stroke="#0a0a0a" stroke-width="1.0" />
<text x="149.80" y="507.74" font-size="4.0" text-anchor="end" fill="#0a0a0a" font-weight="bold" textLength="4.20" lengthAdjust="spacingAndGlyphs" stroke="#0a0a0a" stroke-width="0.12">40</text>
<line x1="150.50" y1="521.83" x2="152.70" y2="521.83" stroke="#0a0a0a" stroke-width="1.0" />
<text x="149.80" y="523.27" font-size="4.0" text-anchor="end" fill="#0a0a0a" font-weight="bold" textLength="4.20" lengthAdjust="spacingAndGlyphs" stroke="#0a0a0a" stroke-width="0.12">30</text>
<line x1="150.50" y1="537.35" x2="152.70" y2="537.35" stroke="#0a0a0a" stroke-width="1.0" />
<text x="149.80" y="538.79" font-size="4.0" text-anchor="end" fill="#0a0a0a" font-weight="bold" textLength="4.20" lengthAdjust="spacingAndGlyphs" stroke="#0a0a0a" stroke-width="0.12">20</text>
<line x1="150.50" y1="552.88" x2="152.70" y2="552.88" stroke="#0a0a0a" stroke-width="1.0" />
<text x="149.80" y="554.32" font-size="4.0" text-anchor="end" fill="#0a0a0a" font-weight="bold" textLength="4.20" lengthAdjust="spacingAndGlyphs" stroke="#0a0a0a" stroke-width="0.12">10</text>
<line x1="150.50" y1="568.40" x2="152.70" y2="568.40" stroke="#0a0a0a" stroke-width="1.0" />
<text x="149.80" y="569.84" font-size="4.0" text-anchor="end" fill="#0a0a0a" font-weight="bold" textLength="2.10" lengthAdjust="spacingAndGlyphs" stroke="#0a0a0a" stroke-width="0.12">0</text>
<rect x="159.40" y="511.00" width="26.30" height="57.40" fill="#fff" stroke="#0a0a0a" stroke-width="1.2"/>
<rect x="198.60" y="509.40" width="27.10" height="59.00" fill="#0a0a0a"/>
<line x1="172.55" y1="568.40" x2="172.55" y2="570.00" stroke="#0a0a0a" stroke-width="1.0" />
<line x1="212.15" y1="568.40" x2="212.15" y2="570.00" stroke="#0a0a0a" stroke-width="1.0" />
<text x="172.20" y="577.70" font-size="9" text-anchor="middle" fill="#0a0a0a" font-weight="bold" textLength="13.90" lengthAdjust="spacingAndGlyphs" stroke="#0a0a0a" stroke-width="0.32">Veh</text>
<text x="211.80" y="577.70" font-size="9" text-anchor="middle" fill="#0a0a0a" font-weight="bold" textLength="15.00" lengthAdjust="spacingAndGlyphs" stroke="#0a0a0a" stroke-width="0.32">PGE</text>
<text x="136.24" y="537.30" font-size="6.3" text-anchor="middle" fill="#0a0a0a" font-weight="bold" textLength="54.00" lengthAdjust="spacingAndGlyphs" transform="rotate(-90 136.24 537.30)" stroke="#0a0a0a" stroke-width="0.22">% Donor cells in</text>
<text x="142.94" y="537.30" font-size="6.3" text-anchor="middle" fill="#0a0a0a" font-weight="bold" textLength="54.00" lengthAdjust="spacingAndGlyphs" transform="rotate(-90 142.94 537.30)" stroke="#0a0a0a" stroke-width="0.22">peripheral blood</text>
<line x1="270.00" y1="508.30" x2="270.00" y2="569.80" stroke="#0a0a0a" stroke-width="1.45" />
<line x1="269.40" y1="569.20" x2="351.30" y2="569.20" stroke="#0a0a0a" stroke-width="1.45" />
<line x1="267.80" y1="508.80" x2="270.00" y2="508.80" stroke="#0a0a0a" stroke-width="1.0" />
<text x="267.10" y="510.24" font-size="4.0" text-anchor="end" fill="#0a0a0a" font-weight="bold" textLength="4.20" lengthAdjust="spacingAndGlyphs" stroke="#0a0a0a" stroke-width="0.12">30</text>
<line x1="267.80" y1="528.93" x2="270.00" y2="528.93" stroke="#0a0a0a" stroke-width="1.0" />
<text x="267.10" y="530.37" font-size="4.0" text-anchor="end" fill="#0a0a0a" font-weight="bold" textLength="4.20" lengthAdjust="spacingAndGlyphs" stroke="#0a0a0a" stroke-width="0.12">20</text>
<line x1="267.80" y1="549.07" x2="270.00" y2="549.07" stroke="#0a0a0a" stroke-width="1.0" />
<text x="267.10" y="550.51" font-size="4.0" text-anchor="end" fill="#0a0a0a" font-weight="bold" textLength="4.20" lengthAdjust="spacingAndGlyphs" stroke="#0a0a0a" stroke-width="0.12">10</text>
<line x1="267.80" y1="569.20" x2="270.00" y2="569.20" stroke="#0a0a0a" stroke-width="1.0" />
<text x="267.10" y="570.64" font-size="4.0" text-anchor="end" fill="#0a0a0a" font-weight="bold" textLength="2.10" lengthAdjust="spacingAndGlyphs" stroke="#0a0a0a" stroke-width="0.12">0</text>
<rect x="276.90" y="527.60" width="26.30" height="41.60" fill="#fff" stroke="#0a0a0a" stroke-width="1.2"/>
<rect x="316.30" y="515.80" width="27.50" height="53.40" fill="#0a0a0a"/>
<line x1="290.05" y1="569.20" x2="290.05" y2="570.80" stroke="#0a0a0a" stroke-width="1.0" />
<line x1="330.05" y1="569.20" x2="330.05" y2="570.80" stroke="#0a0a0a" stroke-width="1.0" />
<text x="290.10" y="578.40" font-size="9" text-anchor="middle" fill="#0a0a0a" font-weight="bold" textLength="13.90" lengthAdjust="spacingAndGlyphs" stroke="#0a0a0a" stroke-width="0.32">Veh</text>
<text x="330.10" y="578.40" font-size="9" text-anchor="middle" fill="#0a0a0a" font-weight="bold" textLength="15.00" lengthAdjust="spacingAndGlyphs" stroke="#0a0a0a" stroke-width="0.32">PGE</text>
<text x="254.17" y="539.40" font-size="5.8" text-anchor="middle" fill="#0a0a0a" font-weight="bold" textLength="50.00" lengthAdjust="spacingAndGlyphs" transform="rotate(-90 254.17 539.40)" stroke="#0a0a0a" stroke-width="0.22">% Donor cells in</text>
<text x="260.37" y="539.40" font-size="5.8" text-anchor="middle" fill="#0a0a0a" font-weight="bold" textLength="50.00" lengthAdjust="spacingAndGlyphs" transform="rotate(-90 260.37 539.40)" stroke="#0a0a0a" stroke-width="0.22">peripheral blood</text>
<text x="330.00" y="515.40" font-size="10.5" text-anchor="middle" fill="#0a0a0a" font-weight="bold" textLength="8.80" lengthAdjust="spacingAndGlyphs" stroke="#0a0a0a" stroke-width="0.35">**</text>
<line x1="384.30" y1="510.00" x2="384.30" y2="569.80" stroke="#0a0a0a" stroke-width="1.45" />
<line x1="383.70" y1="569.20" x2="465.00" y2="569.20" stroke="#0a0a0a" stroke-width="1.45" />
<line x1="382.10" y1="510.50" x2="384.30" y2="510.50" stroke="#0a0a0a" stroke-width="1.0" />
<text x="381.40" y="511.94" font-size="4.0" text-anchor="end" fill="#0a0a0a" font-weight="bold" textLength="4.20" lengthAdjust="spacingAndGlyphs" stroke="#0a0a0a" stroke-width="0.12">50</text>
<line x1="382.10" y1="522.24" x2="384.30" y2="522.24" stroke="#0a0a0a" stroke-width="1.0" />
<text x="381.40" y="523.68" font-size="4.0" text-anchor="end" fill="#0a0a0a" font-weight="bold" textLength="4.20" lengthAdjust="spacingAndGlyphs" stroke="#0a0a0a" stroke-width="0.12">40</text>
<line x1="382.10" y1="533.98" x2="384.30" y2="533.98" stroke="#0a0a0a" stroke-width="1.0" />
<text x="381.40" y="535.42" font-size="4.0" text-anchor="end" fill="#0a0a0a" font-weight="bold" textLength="4.20" lengthAdjust="spacingAndGlyphs" stroke="#0a0a0a" stroke-width="0.12">30</text>
<line x1="382.10" y1="545.72" x2="384.30" y2="545.72" stroke="#0a0a0a" stroke-width="1.0" />
<text x="381.40" y="547.16" font-size="4.0" text-anchor="end" fill="#0a0a0a" font-weight="bold" textLength="4.20" lengthAdjust="spacingAndGlyphs" stroke="#0a0a0a" stroke-width="0.12">20</text>
<line x1="382.10" y1="557.46" x2="384.30" y2="557.46" stroke="#0a0a0a" stroke-width="1.0" />
<text x="381.40" y="558.90" font-size="4.0" text-anchor="end" fill="#0a0a0a" font-weight="bold" textLength="4.20" lengthAdjust="spacingAndGlyphs" stroke="#0a0a0a" stroke-width="0.12">10</text>
<line x1="382.10" y1="569.20" x2="384.30" y2="569.20" stroke="#0a0a0a" stroke-width="1.0" />
<text x="381.40" y="570.64" font-size="4.0" text-anchor="end" fill="#0a0a0a" font-weight="bold" textLength="2.10" lengthAdjust="spacingAndGlyphs" stroke="#0a0a0a" stroke-width="0.12">0</text>
<rect x="391.40" y="529.20" width="26.50" height="40.00" fill="#fff" stroke="#0a0a0a" stroke-width="1.2"/>
<rect x="430.90" y="520.30" width="27.30" height="48.90" fill="#0a0a0a"/>
<line x1="404.65" y1="569.20" x2="404.65" y2="570.80" stroke="#0a0a0a" stroke-width="1.0" />
<line x1="444.55" y1="569.20" x2="444.55" y2="570.80" stroke="#0a0a0a" stroke-width="1.0" />
<text x="405.00" y="578.40" font-size="9" text-anchor="middle" fill="#0a0a0a" font-weight="bold" textLength="13.90" lengthAdjust="spacingAndGlyphs" stroke="#0a0a0a" stroke-width="0.32">Veh</text>
<text x="444.70" y="578.40" font-size="9" text-anchor="middle" fill="#0a0a0a" font-weight="bold" textLength="15.00" lengthAdjust="spacingAndGlyphs" stroke="#0a0a0a" stroke-width="0.32">PGE</text>
<text x="368.97" y="539.40" font-size="5.8" text-anchor="middle" fill="#0a0a0a" font-weight="bold" textLength="50.00" lengthAdjust="spacingAndGlyphs" transform="rotate(-90 368.97 539.40)" stroke="#0a0a0a" stroke-width="0.22">% Donor cells in</text>
<text x="375.17" y="539.40" font-size="5.8" text-anchor="middle" fill="#0a0a0a" font-weight="bold" textLength="50.00" lengthAdjust="spacingAndGlyphs" transform="rotate(-90 375.17 539.40)" stroke="#0a0a0a" stroke-width="0.22">peripheral blood</text>
<text x="443.80" y="514.60" font-size="11" text-anchor="middle" fill="#0a0a0a" font-weight="bold" stroke="#0a0a0a" stroke-width="0.35">*</text>
<line x1="155.70" y1="601.80" x2="155.70" y2="665.20" stroke="#0a0a0a" stroke-width="1.45" />
<line x1="155.10" y1="664.60" x2="230.00" y2="664.60" stroke="#0a0a0a" stroke-width="1.45" />
<line x1="153.50" y1="602.30" x2="155.70" y2="602.30" stroke="#0a0a0a" stroke-width="1.0" />
<text x="152.80" y="603.74" font-size="4.0" text-anchor="end" fill="#0a0a0a" font-weight="bold" textLength="3.60" lengthAdjust="spacingAndGlyphs" stroke="#0a0a0a" stroke-width="0.12">45</text>
<line x1="153.50" y1="609.22" x2="155.70" y2="609.22" stroke="#0a0a0a" stroke-width="1.0" />
<text x="152.80" y="610.66" font-size="4.0" text-anchor="end" fill="#0a0a0a" font-weight="bold" textLength="3.60" lengthAdjust="spacingAndGlyphs" stroke="#0a0a0a" stroke-width="0.12">40</text>
<line x1="153.50" y1="616.14" x2="155.70" y2="616.14" stroke="#0a0a0a" stroke-width="1.0" />
<text x="152.80" y="617.58" font-size="4.0" text-anchor="end" fill="#0a0a0a" font-weight="bold" textLength="3.60" lengthAdjust="spacingAndGlyphs" stroke="#0a0a0a" stroke-width="0.12">35</text>
<line x1="153.50" y1="623.07" x2="155.70" y2="623.07" stroke="#0a0a0a" stroke-width="1.0" />
<text x="152.80" y="624.51" font-size="4.0" text-anchor="end" fill="#0a0a0a" font-weight="bold" textLength="3.60" lengthAdjust="spacingAndGlyphs" stroke="#0a0a0a" stroke-width="0.12">30</text>
<line x1="153.50" y1="629.99" x2="155.70" y2="629.99" stroke="#0a0a0a" stroke-width="1.0" />
<text x="152.80" y="631.43" font-size="4.0" text-anchor="end" fill="#0a0a0a" font-weight="bold" textLength="3.60" lengthAdjust="spacingAndGlyphs" stroke="#0a0a0a" stroke-width="0.12">25</text>
<line x1="153.50" y1="636.91" x2="155.70" y2="636.91" stroke="#0a0a0a" stroke-width="1.0" />
<text x="152.80" y="638.35" font-size="4.0" text-anchor="end" fill="#0a0a0a" font-weight="bold" textLength="3.60" lengthAdjust="spacingAndGlyphs" stroke="#0a0a0a" stroke-width="0.12">20</text>
<line x1="153.50" y1="643.83" x2="155.70" y2="643.83" stroke="#0a0a0a" stroke-width="1.0" />
<text x="152.80" y="645.27" font-size="4.0" text-anchor="end" fill="#0a0a0a" font-weight="bold" textLength="3.60" lengthAdjust="spacingAndGlyphs" stroke="#0a0a0a" stroke-width="0.12">15</text>
<line x1="153.50" y1="650.76" x2="155.70" y2="650.76" stroke="#0a0a0a" stroke-width="1.0" />
<text x="152.80" y="652.20" font-size="4.0" text-anchor="end" fill="#0a0a0a" font-weight="bold" textLength="3.60" lengthAdjust="spacingAndGlyphs" stroke="#0a0a0a" stroke-width="0.12">10</text>
<line x1="153.50" y1="657.68" x2="155.70" y2="657.68" stroke="#0a0a0a" stroke-width="1.0" />
<text x="152.80" y="659.12" font-size="4.0" text-anchor="end" fill="#0a0a0a" font-weight="bold" textLength="1.80" lengthAdjust="spacingAndGlyphs" stroke="#0a0a0a" stroke-width="0.12">5</text>
<line x1="153.50" y1="664.60" x2="155.70" y2="664.60" stroke="#0a0a0a" stroke-width="1.0" />
<text x="152.80" y="666.04" font-size="4.0" text-anchor="end" fill="#0a0a0a" font-weight="bold" textLength="1.80" lengthAdjust="spacingAndGlyphs" stroke="#0a0a0a" stroke-width="0.12">0</text>
<rect x="161.70" y="608.40" width="24.70" height="56.20" fill="#fff" stroke="#0a0a0a" stroke-width="1.2"/>
<rect x="197.80" y="606.90" width="25.30" height="57.70" fill="#0a0a0a"/>
<line x1="174.05" y1="664.60" x2="174.05" y2="666.20" stroke="#0a0a0a" stroke-width="1.0" />
<line x1="210.45" y1="664.60" x2="210.45" y2="666.20" stroke="#0a0a0a" stroke-width="1.0" />
<text x="173.60" y="674.40" font-size="9" text-anchor="middle" fill="#0a0a0a" font-weight="bold" textLength="12.60" lengthAdjust="spacingAndGlyphs" stroke="#0a0a0a" stroke-width="0.32">Veh</text>
<text x="210.20" y="674.40" font-size="9" text-anchor="middle" fill="#0a0a0a" font-weight="bold" textLength="18.80" lengthAdjust="spacingAndGlyphs" stroke="#0a0a0a" stroke-width="0.32">PGE2</text>
<text x="133.04" y="633.70" font-size="6.0" text-anchor="middle" fill="#0a0a0a" font-weight="bold" textLength="44.70" lengthAdjust="spacingAndGlyphs" transform="rotate(-90 133.04 633.70)" stroke="#0a0a0a" stroke-width="0.22">% Donor cells</text>
<text x="140.04" y="633.70" font-size="6.0" text-anchor="middle" fill="#0a0a0a" font-weight="bold" textLength="40.50" lengthAdjust="spacingAndGlyphs" transform="rotate(-90 140.04 633.70)" stroke="#0a0a0a" stroke-width="0.22">in peripheral</text>
<text x="146.54" y="633.70" font-size="6.0" text-anchor="middle" fill="#0a0a0a" font-weight="bold" textLength="19.30" lengthAdjust="spacingAndGlyphs" transform="rotate(-90 146.54 633.70)" stroke="#0a0a0a" stroke-width="0.22">blood</text>
<line x1="273.80" y1="605.00" x2="273.80" y2="669.40" stroke="#0a0a0a" stroke-width="1.45" />
<line x1="273.20" y1="668.80" x2="353.80" y2="668.80" stroke="#0a0a0a" stroke-width="1.45" />
<line x1="271.60" y1="605.50" x2="273.80" y2="605.50" stroke="#0a0a0a" stroke-width="1.0" />
<text x="270.90" y="606.94" font-size="4.0" text-anchor="end" fill="#0a0a0a" font-weight="bold" textLength="4.20" lengthAdjust="spacingAndGlyphs" stroke="#0a0a0a" stroke-width="0.12">40</text>
<line x1="271.60" y1="621.33" x2="273.80" y2="621.33" stroke="#0a0a0a" stroke-width="1.0" />
<text x="270.90" y="622.77" font-size="4.0" text-anchor="end" fill="#0a0a0a" font-weight="bold" textLength="4.20" lengthAdjust="spacingAndGlyphs" stroke="#0a0a0a" stroke-width="0.12">30</text>
<line x1="271.60" y1="637.15" x2="273.80" y2="637.15" stroke="#0a0a0a" stroke-width="1.0" />
<text x="270.90" y="638.59" font-size="4.0" text-anchor="end" fill="#0a0a0a" font-weight="bold" textLength="4.20" lengthAdjust="spacingAndGlyphs" stroke="#0a0a0a" stroke-width="0.12">20</text>
<line x1="271.60" y1="652.97" x2="273.80" y2="652.97" stroke="#0a0a0a" stroke-width="1.0" />
<text x="270.90" y="654.41" font-size="4.0" text-anchor="end" fill="#0a0a0a" font-weight="bold" textLength="4.20" lengthAdjust="spacingAndGlyphs" stroke="#0a0a0a" stroke-width="0.12">10</text>
<line x1="271.60" y1="668.80" x2="273.80" y2="668.80" stroke="#0a0a0a" stroke-width="1.0" />
<text x="270.90" y="670.24" font-size="4.0" text-anchor="end" fill="#0a0a0a" font-weight="bold" textLength="2.10" lengthAdjust="spacingAndGlyphs" stroke="#0a0a0a" stroke-width="0.12">0</text>
<line x1="294.40" y1="616.70" x2="294.40" y2="618.00" stroke="#0a0a0a" stroke-width="1.1" />
<line x1="287.00" y1="616.70" x2="301.50" y2="616.70" stroke="#0a0a0a" stroke-width="1.05" />
<rect x="281.10" y="618.60" width="26.60" height="50.20" fill="#fff" stroke="#0a0a0a" stroke-width="1.2"/>
<rect x="322.00" y="610.00" width="27.50" height="58.80" fill="#0a0a0a"/>
<line x1="294.40" y1="668.80" x2="294.40" y2="670.40" stroke="#0a0a0a" stroke-width="1.0" />
<line x1="335.75" y1="668.80" x2="335.75" y2="670.40" stroke="#0a0a0a" stroke-width="1.0" />
<text x="294.50" y="677.90" font-size="9" text-anchor="middle" fill="#0a0a0a" font-weight="bold" textLength="12.60" lengthAdjust="spacingAndGlyphs" stroke="#0a0a0a" stroke-width="0.32">Veh</text>
<text x="335.70" y="677.90" font-size="9" text-anchor="middle" fill="#0a0a0a" font-weight="bold" textLength="19.70" lengthAdjust="spacingAndGlyphs" stroke="#0a0a0a" stroke-width="0.32">PGE2</text>
<text x="259.40" y="637.20" font-size="4.7" text-anchor="middle" fill="#0a0a0a" font-weight="bold" textLength="46.00" lengthAdjust="spacingAndGlyphs" transform="rotate(-90 259.40 637.20)" stroke="#0a0a0a" stroke-width="0.15">% Donor cells in</text>
<text x="264.90" y="637.20" font-size="4.7" text-anchor="middle" fill="#0a0a0a" font-weight="bold" textLength="46.00" lengthAdjust="spacingAndGlyphs" transform="rotate(-90 264.90 637.20)" stroke="#0a0a0a" stroke-width="0.15">peripheral blood</text>
<line x1="383.80" y1="607.50" x2="383.80" y2="671.20" stroke="#0a0a0a" stroke-width="1.45" />
<line x1="383.20" y1="670.60" x2="465.00" y2="670.60" stroke="#0a0a0a" stroke-width="1.45" />
<line x1="381.60" y1="608.00" x2="383.80" y2="608.00" stroke="#0a0a0a" stroke-width="1.0" />
<text x="380.90" y="609.69" font-size="4.7" text-anchor="end" fill="#0a0a0a" font-weight="bold" textLength="4.60" lengthAdjust="spacingAndGlyphs" stroke="#0a0a0a" stroke-width="0.12">55</text>
<line x1="381.60" y1="613.69" x2="383.80" y2="613.69" stroke="#0a0a0a" stroke-width="1.0" />
<text x="380.90" y="615.38" font-size="4.7" text-anchor="end" fill="#0a0a0a" font-weight="bold" textLength="4.60" lengthAdjust="spacingAndGlyphs" stroke="#0a0a0a" stroke-width="0.12">50</text>
<line x1="381.60" y1="619.38" x2="383.80" y2="619.38" stroke="#0a0a0a" stroke-width="1.0" />
<text x="380.90" y="621.07" font-size="4.7" text-anchor="end" fill="#0a0a0a" font-weight="bold" textLength="4.60" lengthAdjust="spacingAndGlyphs" stroke="#0a0a0a" stroke-width="0.12">45</text>
<line x1="381.60" y1="625.07" x2="383.80" y2="625.07" stroke="#0a0a0a" stroke-width="1.0" />
<text x="380.90" y="626.76" font-size="4.7" text-anchor="end" fill="#0a0a0a" font-weight="bold" textLength="4.60" lengthAdjust="spacingAndGlyphs" stroke="#0a0a0a" stroke-width="0.12">40</text>
<line x1="381.60" y1="630.76" x2="383.80" y2="630.76" stroke="#0a0a0a" stroke-width="1.0" />
<text x="380.90" y="632.46" font-size="4.7" text-anchor="end" fill="#0a0a0a" font-weight="bold" textLength="4.60" lengthAdjust="spacingAndGlyphs" stroke="#0a0a0a" stroke-width="0.12">35</text>
<line x1="381.60" y1="636.45" x2="383.80" y2="636.45" stroke="#0a0a0a" stroke-width="1.0" />
<text x="380.90" y="638.15" font-size="4.7" text-anchor="end" fill="#0a0a0a" font-weight="bold" textLength="4.60" lengthAdjust="spacingAndGlyphs" stroke="#0a0a0a" stroke-width="0.12">30</text>
<line x1="381.60" y1="642.15" x2="383.80" y2="642.15" stroke="#0a0a0a" stroke-width="1.0" />
<text x="380.90" y="643.84" font-size="4.7" text-anchor="end" fill="#0a0a0a" font-weight="bold" textLength="4.60" lengthAdjust="spacingAndGlyphs" stroke="#0a0a0a" stroke-width="0.12">25</text>
<line x1="381.60" y1="647.84" x2="383.80" y2="647.84" stroke="#0a0a0a" stroke-width="1.0" />
<text x="380.90" y="649.53" font-size="4.7" text-anchor="end" fill="#0a0a0a" font-weight="bold" textLength="4.60" lengthAdjust="spacingAndGlyphs" stroke="#0a0a0a" stroke-width="0.12">20</text>
<line x1="381.60" y1="653.53" x2="383.80" y2="653.53" stroke="#0a0a0a" stroke-width="1.0" />
<text x="380.90" y="655.22" font-size="4.7" text-anchor="end" fill="#0a0a0a" font-weight="bold" textLength="4.60" lengthAdjust="spacingAndGlyphs" stroke="#0a0a0a" stroke-width="0.12">15</text>
<line x1="381.60" y1="659.22" x2="383.80" y2="659.22" stroke="#0a0a0a" stroke-width="1.0" />
<text x="380.90" y="660.91" font-size="4.7" text-anchor="end" fill="#0a0a0a" font-weight="bold" textLength="4.60" lengthAdjust="spacingAndGlyphs" stroke="#0a0a0a" stroke-width="0.12">10</text>
<line x1="381.60" y1="664.91" x2="383.80" y2="664.91" stroke="#0a0a0a" stroke-width="1.0" />
<text x="380.90" y="666.60" font-size="4.7" text-anchor="end" fill="#0a0a0a" font-weight="bold" textLength="2.30" lengthAdjust="spacingAndGlyphs" stroke="#0a0a0a" stroke-width="0.12">5</text>
<line x1="381.60" y1="670.60" x2="383.80" y2="670.60" stroke="#0a0a0a" stroke-width="1.0" />
<text x="380.90" y="672.29" font-size="4.7" text-anchor="end" fill="#0a0a0a" font-weight="bold" textLength="2.30" lengthAdjust="spacingAndGlyphs" stroke="#0a0a0a" stroke-width="0.12">0</text>
<rect x="390.70" y="624.40" width="27.00" height="46.20" fill="#fff" stroke="#0a0a0a" stroke-width="1.2"/>
<rect x="430.50" y="609.50" width="27.50" height="61.10" fill="#0a0a0a"/>
<line x1="404.20" y1="670.60" x2="404.20" y2="672.20" stroke="#0a0a0a" stroke-width="1.0" />
<line x1="444.25" y1="670.60" x2="444.25" y2="672.20" stroke="#0a0a0a" stroke-width="1.0" />
<text x="403.10" y="680.30" font-size="9" text-anchor="middle" fill="#0a0a0a" font-weight="bold" textLength="12.60" lengthAdjust="spacingAndGlyphs" stroke="#0a0a0a" stroke-width="0.32">Veh</text>
<text x="443.70" y="680.30" font-size="9" text-anchor="middle" fill="#0a0a0a" font-weight="bold" textLength="19.90" lengthAdjust="spacingAndGlyphs" stroke="#0a0a0a" stroke-width="0.32">PGE2</text>
<text x="368.80" y="638.40" font-size="5.3" text-anchor="middle" fill="#0a0a0a" font-weight="bold" textLength="38.00" lengthAdjust="spacingAndGlyphs" transform="rotate(-90 368.80 638.40)" stroke="#0a0a0a" stroke-width="0.15">% Donor cells</text>
<text x="375.00" y="638.40" font-size="5.3" text-anchor="middle" fill="#0a0a0a" font-weight="bold" textLength="48.00" lengthAdjust="spacingAndGlyphs" transform="rotate(-90 375.00 638.40)" stroke="#0a0a0a" stroke-width="0.15">in peripheral blood</text>
<text x="443.00" y="608.90" font-size="10" text-anchor="middle" fill="#0a0a0a" font-weight="bold" stroke="#0a0a0a" stroke-width="0.35">*</text>
<line x1="155.90" y1="701.50" x2="155.90" y2="764.40" stroke="#0a0a0a" stroke-width="1.45" />
<line x1="155.30" y1="763.80" x2="236.30" y2="763.80" stroke="#0a0a0a" stroke-width="1.45" />
<line x1="153.70" y1="702.00" x2="155.90" y2="702.00" stroke="#0a0a0a" stroke-width="1.0" />
<text x="153.00" y="703.44" font-size="4.0" text-anchor="end" fill="#0a0a0a" font-weight="bold" textLength="4.20" lengthAdjust="spacingAndGlyphs" stroke="#0a0a0a" stroke-width="0.12">20</text>
<line x1="153.70" y1="717.45" x2="155.90" y2="717.45" stroke="#0a0a0a" stroke-width="1.0" />
<text x="153.00" y="718.89" font-size="4.0" text-anchor="end" fill="#0a0a0a" font-weight="bold" textLength="4.20" lengthAdjust="spacingAndGlyphs" stroke="#0a0a0a" stroke-width="0.12">15</text>
<line x1="153.70" y1="732.90" x2="155.90" y2="732.90" stroke="#0a0a0a" stroke-width="1.0" />
<text x="153.00" y="734.34" font-size="4.0" text-anchor="end" fill="#0a0a0a" font-weight="bold" textLength="4.20" lengthAdjust="spacingAndGlyphs" stroke="#0a0a0a" stroke-width="0.12">10</text>
<line x1="153.70" y1="748.35" x2="155.90" y2="748.35" stroke="#0a0a0a" stroke-width="1.0" />
<text x="153.00" y="749.79" font-size="4.0" text-anchor="end" fill="#0a0a0a" font-weight="bold" textLength="2.10" lengthAdjust="spacingAndGlyphs" stroke="#0a0a0a" stroke-width="0.12">5</text>
<line x1="153.70" y1="763.80" x2="155.90" y2="763.80" stroke="#0a0a0a" stroke-width="1.0" />
<text x="153.00" y="765.24" font-size="4.0" text-anchor="end" fill="#0a0a0a" font-weight="bold" textLength="2.10" lengthAdjust="spacingAndGlyphs" stroke="#0a0a0a" stroke-width="0.12">0</text>
<line x1="175.75" y1="729.30" x2="175.75" y2="738.00" stroke="#0a0a0a" stroke-width="1.1" />
<line x1="168.80" y1="729.30" x2="182.50" y2="729.30" stroke="#0a0a0a" stroke-width="1.05" />
<rect x="162.60" y="738.60" width="26.30" height="25.20" fill="#fff" stroke="#0a0a0a" stroke-width="1.2"/>
<line x1="215.65" y1="715.00" x2="215.65" y2="726.80" stroke="#0a0a0a" stroke-width="1.1" />
<line x1="208.80" y1="715.00" x2="222.50" y2="715.00" stroke="#0a0a0a" stroke-width="1.05" />
<rect x="202.00" y="726.80" width="27.30" height="37.00" fill="#0a0a0a"/>
<line x1="175.75" y1="763.80" x2="175.75" y2="765.40" stroke="#0a0a0a" stroke-width="1.0" />
<line x1="215.65" y1="763.80" x2="215.65" y2="765.40" stroke="#0a0a0a" stroke-width="1.0" />
<text x="175.30" y="774.60" font-size="9" text-anchor="middle" fill="#0a0a0a" font-weight="bold" textLength="13.20" lengthAdjust="spacingAndGlyphs" stroke="#0a0a0a" stroke-width="0.32">Veh</text>
<text x="215.60" y="774.60" font-size="9" text-anchor="middle" fill="#0a0a0a" font-weight="bold" textLength="18.60" lengthAdjust="spacingAndGlyphs" stroke="#0a0a0a" stroke-width="0.32">PGE2</text>
<text x="139.31" y="733.30" font-size="6.2" text-anchor="middle" fill="#0a0a0a" font-weight="bold" textLength="53.00" lengthAdjust="spacingAndGlyphs" transform="rotate(-90 139.31 733.30)" stroke="#0a0a0a" stroke-width="0.22">% Donor cells in</text>
<text x="146.31" y="733.30" font-size="6.2" text-anchor="middle" fill="#0a0a0a" font-weight="bold" textLength="53.00" lengthAdjust="spacingAndGlyphs" transform="rotate(-90 146.31 733.30)" stroke="#0a0a0a" stroke-width="0.22">peripheral blood</text>
<line x1="270.00" y1="703.30" x2="270.00" y2="766.90" stroke="#0a0a0a" stroke-width="1.45" />
<line x1="269.40" y1="766.30" x2="351.30" y2="766.30" stroke="#0a0a0a" stroke-width="1.45" />
<line x1="267.80" y1="703.80" x2="270.00" y2="703.80" stroke="#0a0a0a" stroke-width="1.0" />
<text x="267.10" y="705.24" font-size="4.0" text-anchor="end" fill="#0a0a0a" font-weight="bold" textLength="4.20" lengthAdjust="spacingAndGlyphs" stroke="#0a0a0a" stroke-width="0.12">30</text>
<line x1="267.80" y1="724.63" x2="270.00" y2="724.63" stroke="#0a0a0a" stroke-width="1.0" />
<text x="267.10" y="726.07" font-size="4.0" text-anchor="end" fill="#0a0a0a" font-weight="bold" textLength="4.20" lengthAdjust="spacingAndGlyphs" stroke="#0a0a0a" stroke-width="0.12">20</text>
<line x1="267.80" y1="745.47" x2="270.00" y2="745.47" stroke="#0a0a0a" stroke-width="1.0" />
<text x="267.10" y="746.91" font-size="4.0" text-anchor="end" fill="#0a0a0a" font-weight="bold" textLength="4.20" lengthAdjust="spacingAndGlyphs" stroke="#0a0a0a" stroke-width="0.12">10</text>
<line x1="267.80" y1="766.30" x2="270.00" y2="766.30" stroke="#0a0a0a" stroke-width="1.0" />
<text x="267.10" y="767.74" font-size="4.0" text-anchor="end" fill="#0a0a0a" font-weight="bold" textLength="2.10" lengthAdjust="spacingAndGlyphs" stroke="#0a0a0a" stroke-width="0.12">0</text>
<line x1="290.05" y1="718.30" x2="290.05" y2="731.30" stroke="#0a0a0a" stroke-width="1.1" />
<line x1="283.00" y1="718.30" x2="297.00" y2="718.30" stroke="#0a0a0a" stroke-width="1.05" />
<rect x="276.90" y="731.90" width="26.30" height="34.40" fill="#fff" stroke="#0a0a0a" stroke-width="1.2"/>
<line x1="330.05" y1="711.30" x2="330.05" y2="725.50" stroke="#0a0a0a" stroke-width="1.1" />
<line x1="322.50" y1="711.30" x2="336.80" y2="711.30" stroke="#0a0a0a" stroke-width="1.05" />
<rect x="316.30" y="725.50" width="27.50" height="40.80" fill="#0a0a0a"/>
<line x1="290.05" y1="766.30" x2="290.05" y2="767.90" stroke="#0a0a0a" stroke-width="1.0" />
<line x1="330.05" y1="766.30" x2="330.05" y2="767.90" stroke="#0a0a0a" stroke-width="1.0" />
<text x="289.80" y="776.00" font-size="9" text-anchor="middle" fill="#0a0a0a" font-weight="bold" textLength="13.20" lengthAdjust="spacingAndGlyphs" stroke="#0a0a0a" stroke-width="0.32">Veh</text>
<text x="329.50" y="776.00" font-size="9" text-anchor="middle" fill="#0a0a0a" font-weight="bold" textLength="19.20" lengthAdjust="spacingAndGlyphs" stroke="#0a0a0a" stroke-width="0.32">PGE2</text>
<text x="254.04" y="735.40" font-size="6.0" text-anchor="middle" fill="#0a0a0a" font-weight="bold" textLength="52.00" lengthAdjust="spacingAndGlyphs" transform="rotate(-90 254.04 735.40)" stroke="#0a0a0a" stroke-width="0.22">% Donor cells in</text>
<text x="260.64" y="735.40" font-size="6.0" text-anchor="middle" fill="#0a0a0a" font-weight="bold" textLength="52.00" lengthAdjust="spacingAndGlyphs" transform="rotate(-90 260.64 735.40)" stroke="#0a0a0a" stroke-width="0.22">peripheral blood</text>
<line x1="384.50" y1="703.30" x2="384.50" y2="767.20" stroke="#0a0a0a" stroke-width="1.45" />
<line x1="383.90" y1="766.60" x2="465.00" y2="766.60" stroke="#0a0a0a" stroke-width="1.45" />
<line x1="382.30" y1="703.80" x2="384.50" y2="703.80" stroke="#0a0a0a" stroke-width="1.0" />
<text x="381.60" y="705.24" font-size="4.0" text-anchor="end" fill="#0a0a0a" font-weight="bold" textLength="4.20" lengthAdjust="spacingAndGlyphs" stroke="#0a0a0a" stroke-width="0.12">40</text>
<line x1="382.30" y1="719.50" x2="384.50" y2="719.50" stroke="#0a0a0a" stroke-width="1.0" />
<text x="381.60" y="720.94" font-size="4.0" text-anchor="end" fill="#0a0a0a" font-weight="bold" textLength="4.20" lengthAdjust="spacingAndGlyphs" stroke="#0a0a0a" stroke-width="0.12">30</text>
<line x1="382.30" y1="735.20" x2="384.50" y2="735.20" stroke="#0a0a0a" stroke-width="1.0" />
<text x="381.60" y="736.64" font-size="4.0" text-anchor="end" fill="#0a0a0a" font-weight="bold" textLength="4.20" lengthAdjust="spacingAndGlyphs" stroke="#0a0a0a" stroke-width="0.12">20</text>
<line x1="382.30" y1="750.90" x2="384.50" y2="750.90" stroke="#0a0a0a" stroke-width="1.0" />
<text x="381.60" y="752.34" font-size="4.0" text-anchor="end" fill="#0a0a0a" font-weight="bold" textLength="4.20" lengthAdjust="spacingAndGlyphs" stroke="#0a0a0a" stroke-width="0.12">10</text>
<line x1="382.30" y1="766.60" x2="384.50" y2="766.60" stroke="#0a0a0a" stroke-width="1.0" />
<text x="381.60" y="768.04" font-size="4.0" text-anchor="end" fill="#0a0a0a" font-weight="bold" textLength="2.10" lengthAdjust="spacingAndGlyphs" stroke="#0a0a0a" stroke-width="0.12">0</text>
<line x1="404.25" y1="751.30" x2="404.25" y2="754.50" stroke="#0a0a0a" stroke-width="1.1" />
<line x1="397.50" y1="751.30" x2="411.30" y2="751.30" stroke="#0a0a0a" stroke-width="1.05" />
<rect x="391.10" y="755.10" width="26.30" height="11.50" fill="#fff" stroke="#0a0a0a" stroke-width="1.2"/>
<line x1="444.25" y1="744.50" x2="444.25" y2="750.50" stroke="#0a0a0a" stroke-width="1.1" />
<line x1="437.50" y1="744.50" x2="451.30" y2="744.50" stroke="#0a0a0a" stroke-width="1.05" />
<rect x="430.50" y="750.50" width="27.50" height="16.10" fill="#0a0a0a"/>
<line x1="404.25" y1="766.60" x2="404.25" y2="768.20" stroke="#0a0a0a" stroke-width="1.0" />
<line x1="444.25" y1="766.60" x2="444.25" y2="768.20" stroke="#0a0a0a" stroke-width="1.0" />
<text x="404.70" y="776.30" font-size="9" text-anchor="middle" fill="#0a0a0a" font-weight="bold" textLength="13.20" lengthAdjust="spacingAndGlyphs" stroke="#0a0a0a" stroke-width="0.32">Veh</text>
<text x="444.30" y="776.30" font-size="9" text-anchor="middle" fill="#0a0a0a" font-weight="bold" textLength="19.00" lengthAdjust="spacingAndGlyphs" stroke="#0a0a0a" stroke-width="0.32">PGE2</text>
<text x="369.04" y="735.60" font-size="6.0" text-anchor="middle" fill="#0a0a0a" font-weight="bold" textLength="52.50" lengthAdjust="spacingAndGlyphs" transform="rotate(-90 369.04 735.60)" stroke="#0a0a0a" stroke-width="0.22">% Donor cells in</text>
<text x="375.64" y="735.60" font-size="6.0" text-anchor="middle" fill="#0a0a0a" font-weight="bold" textLength="52.50" lengthAdjust="spacingAndGlyphs" transform="rotate(-90 375.64 735.60)" stroke="#0a0a0a" stroke-width="0.22">peripheral blood</text>
</g>
</g>
</svg>
</body>
</html>
